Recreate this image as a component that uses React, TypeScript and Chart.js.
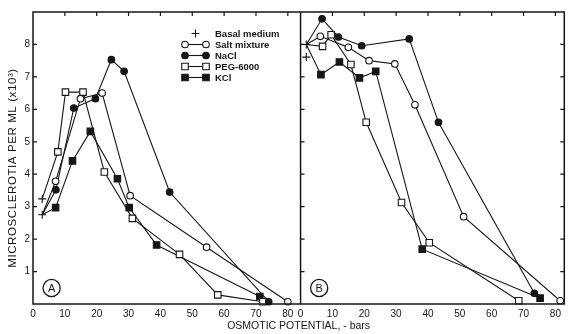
import React, { useEffect, useRef } from "react";
import { Chart, registerables } from "chart.js";

Chart.register(...registerables);

// ---- shared axis data ----
const panelOffset = 84; // panel B origin on the shared x scale
const xMax = 166.8;
const yMax = 9;
const xTickValues = [0, 10, 20, 30, 40, 50, 60, 70, 80];
const yTickValues = [1, 2, 3, 4, 5, 6, 7, 8];
const seriesNames = ["Basal medium", "Salt mixture", "NaCl", "PEG-6000", "KCl"];
const xTitle = "OSMOTIC POTENTIAL, - bars";
const yTitle = "MICROSCLEROTIA PER ML (x10³)";
const panelLabels = ["A", "B"];

// ---- panel A ----
const aBasalX = [2.9, 2.9];
const aBasalY = [3.24, 2.75];
const aSaltX = [2.9, 7.1, 14.9, 21.7, 30.5, 54.5, 80.0];
const aSaltY = [2.75, 3.78, 6.33, 6.5, 3.34, 1.75, 0.07];
const aNaclX = [2.9, 7.2, 12.8, 19.6, 24.6, 28.6, 42.9, 74.0];
const aNaclY = [2.75, 3.52, 6.04, 6.33, 7.53, 7.17, 3.45, 0.07];
const aPegX = [2.9, 7.8, 10.2, 15.7, 22.4, 31.2, 46.0, 58.0, 72.2];
const aPegY = [3.24, 4.69, 6.53, 6.53, 4.07, 2.64, 1.53, 0.28, 0.07];
const aKclX = [2.9, 7.1, 12.4, 18.0, 26.5, 30.2, 38.8, 71.2];
const aKclY = [2.75, 2.97, 4.41, 5.32, 3.86, 2.97, 1.82, 0.23];

// ---- panel B ----
const bBasalX = [1.8, 1.8];
const bBasalY = [8.0, 7.61];
const bSaltX = [1.8, 6.2, 15.0, 21.5, 29.6, 35.9, 51.2, 81.5];
const bSaltY = [8.0, 8.25, 7.91, 7.5, 7.4, 6.14, 2.69, 0.1];
const bNaclX = [1.8, 6.75, 11.9, 19.2, 34.1, 43.3, 73.4];
const bNaclY = [8.0, 8.79, 8.23, 7.96, 8.17, 5.6, 0.33];
const bPegX = [1.8, 6.9, 9.6, 15.8, 20.6, 31.7, 40.4, 68.5];
const bPegY = [8.0, 7.94, 8.3, 7.38, 5.6, 3.13, 1.89, 0.1];
const bKclX = [1.8, 6.4, 12.2, 18.5, 23.6, 38.2, 75.2];
const bKclY = [8.0, 7.07, 7.46, 6.97, 7.17, 1.69, 0.18];

const INK = "#161616";
const FONT = '"Liberation Sans", Arial, sans-serif';

type Style = { pointStyle: string; fill: string; radius: number; line: boolean };
const styles: Record<string, Style> = {
  basal: { pointStyle: "cross", fill: INK, radius: 4, line: false },
  salt: { pointStyle: "circle", fill: "#ffffff", radius: 3.3, line: true },
  nacl: { pointStyle: "circle", fill: INK, radius: 3.3, line: true },
  peg: { pointStyle: "rect", fill: "#ffffff", radius: 4.6, line: true },
  kcl: { pointStyle: "rect", fill: INK, radius: 4.6, line: true },
};

function makeDataset(key: string, xs: number[], ys: number[], offset: number) {
  const st = styles[key];
  return {
    label: key,
    data: xs.map((x, i) => ({ x: x + offset, y: ys[i] })),
    showLine: st.line,
    borderColor: INK,
    borderWidth: 1.1,
    pointStyle: st.pointStyle,
    pointBackgroundColor: st.fill,
    pointBorderColor: INK,
    pointBorderWidth: 1.1,
    pointRadius: (ctx: any) => (st.line && ctx.dataIndex === 0 ? 0 : st.radius),
    pointHoverRadius: (ctx: any) => (st.line && ctx.dataIndex === 0 ? 0 : st.radius),
    clip: false as any,
    fill: false,
  };
}

function drawMarker(ctx: CanvasRenderingContext2D, kind: string, x: number, y: number) {
  const st = styles[kind];
  ctx.save();
  ctx.lineWidth = 1.1;
  ctx.strokeStyle = INK;
  ctx.fillStyle = st.fill;
  ctx.beginPath();
  if (st.pointStyle === "circle") {
    ctx.arc(x, y, st.radius, 0, Math.PI * 2);
    ctx.fill();
    ctx.stroke();
  } else if (st.pointStyle === "rect") {
    const s = st.radius * Math.SQRT1_2;
    ctx.rect(x - s, y - s, 2 * s, 2 * s);
    ctx.fill();
    ctx.stroke();
  } else {
    ctx.moveTo(x - st.radius, y);
    ctx.lineTo(x + st.radius, y);
    ctx.moveTo(x, y - st.radius);
    ctx.lineTo(x, y + st.radius);
    ctx.stroke();
  }
  ctx.restore();
}

const framePlugin = {
  id: "frame",
  afterDraw(chart: any) {
    const { ctx, chartArea: ca, scales } = chart;
    const xs = scales.x;
    const ys = scales.y;
    const div = xs.getPixelForValue(panelOffset);
    ctx.save();
    ctx.strokeStyle = INK;
    ctx.lineWidth = 1.5;
    ctx.strokeRect(ca.left, ca.top, ca.right - ca.left, ca.bottom - ca.top);
    ctx.beginPath();
    ctx.moveTo(div, ca.top);
    ctx.lineTo(div, ca.bottom);
    ctx.stroke();

    // inward ticks
    ctx.lineWidth = 1.2;
    ctx.beginPath();
    [0, panelOffset].forEach((off) => {
      xTickValues.forEach((t) => {
        if (t === 0) return;
        const px = xs.getPixelForValue(off + t);
        ctx.moveTo(px, ca.top);
        ctx.lineTo(px, ca.top + 4);
      });
    });
    yTickValues.forEach((t) => {
      const py = ys.getPixelForValue(t);
      ctx.moveTo(ca.left, py);
      ctx.lineTo(ca.left + 4, py);
      ctx.moveTo(div, py);
      ctx.lineTo(div + 4, py);
      ctx.moveTo(ca.right, py);
      ctx.lineTo(ca.right - 4, py);
    });
    ctx.stroke();

    // legend
    const kinds = ["basal", "salt", "nacl", "peg", "kcl"];
    const lx1 = ca.left + 152;
    const lx2 = ca.left + 173;
    const tx = ca.left + 182;
    ctx.font = `bold 9.5px ${FONT}`;
    ctx.fillStyle = INK;
    ctx.textBaseline = "middle";
    ctx.textAlign = "left";
    kinds.forEach((k, i) => {
      const ly = ca.top + 21.5 + i * 11;
      if (k === "basal") {
        drawMarker(ctx, k, (lx1 + lx2) / 2, ly);
      } else {
        ctx.lineWidth = 1.1;
        ctx.beginPath();
        ctx.moveTo(lx1, ly);
        ctx.lineTo(lx2, ly);
        ctx.stroke();
        drawMarker(ctx, k, lx1, ly);
        drawMarker(ctx, k, lx2, ly);
      }
      ctx.fillStyle = INK;
      ctx.fillText(seriesNames[i], tx, ly + 0.5);
    });

    // circled panel labels
    [ca.left, div].forEach((left, i) => {
      const cx = left + 18.6;
      const cy = ca.bottom - 16;
      ctx.lineWidth = 1.3;
      ctx.beginPath();
      ctx.arc(cx, cy, 8.6, 0, Math.PI * 2);
      ctx.stroke();
      ctx.font = `11px ${FONT}`;
      ctx.textAlign = "center";
      ctx.fillText(panelLabels[i], cx, cy + 0.5);
    });

    // y title
    ctx.save();
    ctx.translate(13, (ca.top + ca.bottom) / 2 + 10);
    ctx.rotate(-Math.PI / 2);
    ctx.font = `11.5px ${FONT}`;
    (ctx as any).letterSpacing = "0.6px";
    ctx.textAlign = "center";
    ctx.textBaseline = "middle";
    ctx.fillText(yTitle, 0, 0);
    ctx.restore();

    ctx.restore();
  },
};

export default function App() {
  const ref = useRef<HTMLCanvasElement | null>(null);
  useEffect(() => {
    if (!ref.current) return;
    const datasets = [
      makeDataset("basal", aBasalX, aBasalY, 0),
      makeDataset("salt", aSaltX, aSaltY, 0),
      makeDataset("nacl", aNaclX, aNaclY, 0),
      makeDataset("peg", aPegX, aPegY, 0),
      makeDataset("kcl", aKclX, aKclY, 0),
      makeDataset("basal", bBasalX, bBasalY, panelOffset),
      makeDataset("salt", bSaltX, bSaltY, panelOffset),
      makeDataset("nacl", bNaclX, bNaclY, panelOffset),
      makeDataset("peg", bPegX, bPegY, panelOffset),
      makeDataset("kcl", bKclX, bKclY, panelOffset),
    ];
    const chart = new Chart(ref.current, {
      type: "scatter",
      data: { datasets: datasets as any },
      options: {
        animation: false,
        responsive: false,
        events: [],
        layout: { padding: { top: 12, right: 1, left: 0, bottom: 0 } },
        plugins: { legend: { display: false }, tooltip: { enabled: false } },
        scales: {
          x: {
            type: "linear",
            min: 0,
            max: xMax,
            grid: { display: false, drawTicks: false },
            border: { display: false },
            afterBuildTicks: (s: any) => {
              s.ticks = [
                ...xTickValues.map((v) => ({ value: v })),
                ...xTickValues.map((v) => ({ value: v + panelOffset })),
              ];
            },
            afterFit: (s: any) => {
              s.height = 30;
            },
            ticks: {
              autoSkip: false,
              maxRotation: 0,
              padding: 4,
              color: INK,
              font: { size: 10, family: FONT },
              callback: (v: any) => String(Number(v) >= panelOffset ? Number(v) - panelOffset : Number(v)),
            },
            title: {
              display: true,
              text: xTitle,
              color: INK,
              font: { size: 10.5, family: FONT },
              padding: { top: 0, bottom: 2 },
            },
          },
          y: {
            type: "linear",
            min: 0,
            max: yMax,
            grid: { display: false, drawTicks: false },
            border: { display: false },
            afterBuildTicks: (s: any) => {
              s.ticks = yTickValues.map((v) => ({ value: v }));
            },
            afterFit: (s: any) => {
              s.width = 33;
            },
            ticks: { padding: 3, color: INK, font: { size: 10, family: FONT } },
          },
        },
      },
      plugins: [framePlugin],
    });
    return () => chart.destroy();
  }, []);
  return (
    <div style={{ position: "fixed", left: 0, top: 0, width: 570, height: 334, background: "#fff" }}>
      <canvas ref={ref} width={570} height={334} style={{ display: "block" }} />
    </div>
  );
}
